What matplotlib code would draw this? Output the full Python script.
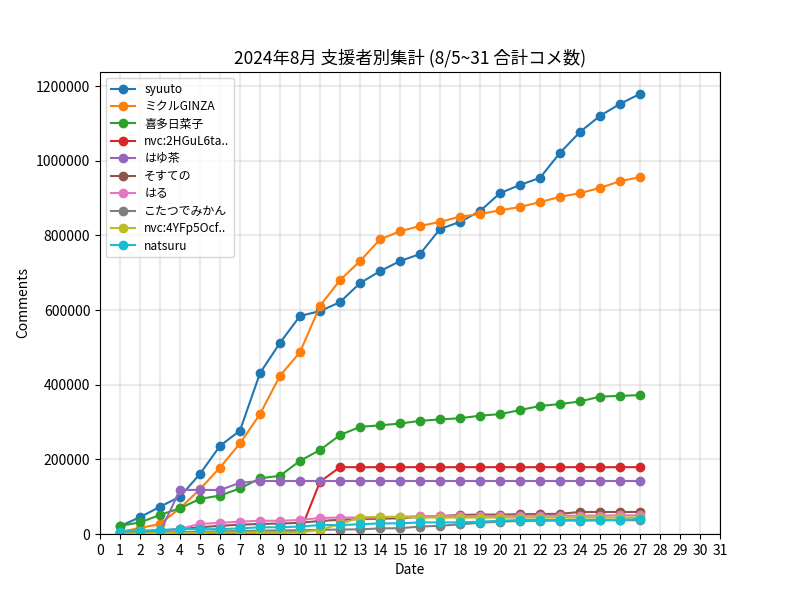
import matplotlib
matplotlib.use("Agg")
import matplotlib.pyplot as plt

plt.rcParams['font.family'] = ['Noto Sans CJK JP', 'DejaVu Sans']

days = list(range(1, 28))

names = ["syuuto", "ミクルGINZA", "喜多日菜子", "nvc:2HGuL6ta..", "はゆ茶",
         "そすての", "はる", "こたつでみかん", "nvc:4YFp5Ocf..", "natsuru"]

syuuto = [21000, 45000, 73000, 100000, 161000, 236000, 277000, 431000, 512000, 584000,
          597000, 621000, 672000, 704000, 731000, 750000, 817000, 836000, 865000, 913000,
          935000, 954000, 1021000, 1077000, 1120000, 1152000, 1179000]
mikuru = [6000, 16000, 27000, 69000, 120000, 178000, 243000, 321000, 424000, 487000,
          611000, 680000, 731000, 789000, 811000, 825000, 836000, 850000, 857000, 867000,
          876000, 889000, 903000, 913000, 927000, 945000, 956000]
kita = [22000, 31000, 51000, 69000, 94000, 103000, 122000, 149000, 156000, 196000,
        225000, 265000, 287000, 291000, 296000, 303000, 307000, 310000, 317000, 321000,
        332000, 343000, 348000, 355000, 368000, 370000, 372000]
nvc2 = [500, 1000, 1500, 2000, 2500, 3000, 3500, 4000, 4500, 5000,
        140000, 179000, 179000, 179000, 179000, 179000, 179000, 179000, 179000, 179000,
        179000, 179000, 179000, 179000, 179000, 179000, 179000]
hayucha = [1000, 2000, 5000, 118000, 118000, 118000, 137000, 142000, 142000, 142000,
           142000, 142000, 142000, 142000, 142000, 142000, 142000, 142000, 142000, 142000,
           142000, 142000, 142000, 142000, 142000, 142000, 142000]
sosuteno = [3000, 6000, 9000, 13000, 18000, 22000, 25000, 27000, 28000, 30000,
            35000, 38000, 40000, 41000, 42000, 46000, 48000, 51000, 52000, 52000,
            53000, 53500, 54000, 59000, 59000, 59000, 59000]
haru = [1000, 3000, 5000, 14000, 27000, 30000, 33000, 35500, 35500, 37500,
        43000, 44000, 44000, 45000, 46000, 48000, 48000, 48000, 48000, 48500,
        49000, 49000, 49000, 49000, 49500, 50000, 50000]
kotatsu = [2000, 3000, 4000, 5000, 6000, 7000, 8000, 9000, 9500, 10000,
           11000, 12000, 12500, 15000, 15500, 20000, 22000, 26000, 30000, 33000,
           35000, 35500, 36000, 36000, 36500, 37000, 37000]
nvc4 = [2000, 2000, 2500, 3000, 3000, 4000, 4000, 4500, 4500, 4500,
        10700, 27000, 44000, 46000, 46000, 44000, 44000, 44000, 44000, 44000,
        44000, 44000, 44000, 44000, 44000, 44000, 44000]
natsuru = [6000, 9000, 11000, 13000, 13000, 13000, 15000, 18000, 18000, 20000,
           24000, 24000, 26000, 28500, 28500, 31000, 31000, 31000, 33000, 35500,
           37500, 37500, 37500, 37500, 37500, 37500, 40000]

series = [syuuto, mikuru, kita, nvc2, hayucha, sosuteno, haru, kotatsu, nvc4, natsuru]

fig, ax = plt.subplots(figsize=(8, 6), dpi=100)
for name, vals in zip(names, series):
    ax.plot(days, vals, marker='o', label=name)

ax.set_title("2024年8月 支援者別集計 (8/5~31 合計コメ数)", fontsize=12.5)
ax.set_xlabel("Date")
ax.set_ylabel("Comments")
ax.set_xlim(0, 31)
ax.set_xticks(range(0, 32))
ax.set_ylim(0, 1237500)
ax.ticklabel_format(axis='y', style='plain')
ax.grid(True, color='#b0b0b0', alpha=0.25, linewidth=1.5)
ax.legend(loc='upper left', fontsize=8.6, labelspacing=0.37)

fig.savefig("out.png", dpi=100)
